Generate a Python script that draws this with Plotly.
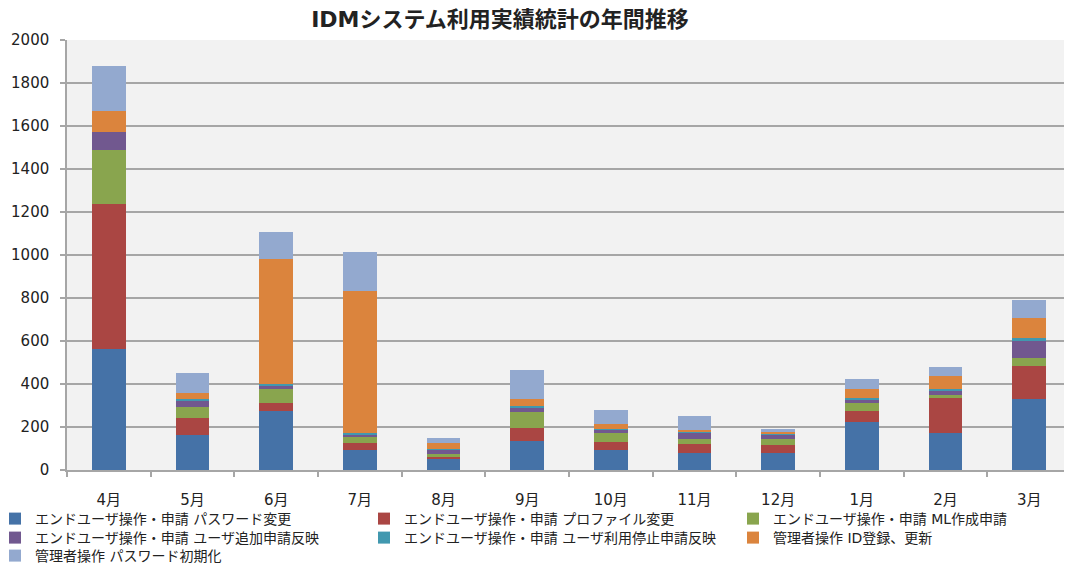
import plotly.graph_objects as go

months = ["4月", "5月", "6月", "7月", "8月", "9月", "10月", "11月", "12月", "1月", "2月", "3月"]

series_names = [
    "エンドユーザ操作・申請 パスワード変更",
    "エンドユーザ操作・申請 プロファイル変更",
    "エンドユーザ操作・申請 ML作成申請",
    "エンドユーザ操作・申請 ユーザ追加申請反映",
    "エンドユーザ操作・申請 ユーザ利用停止申請反映",
    "管理者操作 ID登録、更新",
    "管理者操作 パスワード初期化",
]

pw_change = [565, 161, 273, 93, 52, 133, 94, 77, 77, 225, 173, 329]
profile_change = [671, 82, 40, 34, 10, 63, 34, 45, 40, 51, 164, 156]
ml_create = [254, 51, 63, 27, 12, 74, 42, 23, 28, 34, 10, 35]
user_add = [82, 28, 16, 10, 23, 23, 18, 30, 19, 20, 24, 81]
user_stop = [0, 6, 8, 6, 3, 7, 4, 3, 5, 7, 6, 12]
id_register = [98, 30, 582, 663, 27, 29, 24, 10, 6, 40, 62, 93]
pw_reset = [209, 93, 123, 180, 23, 137, 62, 62, 16, 46, 41, 85]

values = [pw_change, profile_change, ml_create, user_add, user_stop, id_register, pw_reset]
colors = ["#4572A7", "#AA4643", "#89A54E", "#71588F", "#4198AF", "#DB843D", "#93A9CF"]
# legend rows as in the reference: three entries per row
legend_ids = ["legend", "legend", "legend", "legend2", "legend2", "legend2", "legend3"]
legend_widths = [324, 324, 270, 324, 324, 270, 324]

FONT = "DejaVu Sans, Noto Sans CJK JP, sans-serif"
TXT = "#222222"

fig = go.Figure()
for name, vals, col, lg, lw in zip(series_names, values, colors, legend_ids, legend_widths):
    fig.add_trace(go.Bar(
        x=months, y=vals, name=name, marker_color=col,
        marker_line_width=0, legend=lg, legendwidth=lw,
    ))

# page has an 8px body margin, so the figure is drawn 8px smaller
W, H = 1064, 556
ml, mr, mt, mb = 59, 1, 32, 94
pw = W - ml - mr
ph = H - mt - mb

def lx(px):
    return (px - ml) / pw

def ly(py):
    return (H - mb - py) / ph

legend_common = dict(
    orientation="h", xanchor="left", yanchor="top",
    font=dict(family=FONT, size=14, color=TXT),
    bgcolor="rgba(0,0,0,0)", traceorder="normal", itemwidth=30,
    entrywidthmode="pixels",
)

fig.update_layout(
    width=W, height=H,
    margin=dict(l=ml, r=mr, t=mt, b=mb, autoexpand=False),
    barmode="stack", bargap=0.6,
    paper_bgcolor="white", plot_bgcolor="#F2F2F2",
    font=dict(family=FONT, size=15, color=TXT),
    title=dict(
        text="<b>IDMシステム利用実績統計の年間推移</b>",
        x=492 / W, xanchor="center", xref="container",
        y=1 - 11 / H, yanchor="middle", yref="container",
        font=dict(family=FONT, size=22, color=TXT),
    ),
    legend=dict(x=lx(-13), y=ly(495), **legend_common),
    legend2=dict(x=lx(-13), y=ly(514), **legend_common),
    legend3=dict(x=lx(-13), y=ly(532), **legend_common),
    xaxis=dict(
        type="category", showline=True, linecolor="#A6A6A6", linewidth=1.5,
        ticks="outside", tickson="boundaries", ticklen=5, tickcolor="#A6A6A6",
        tickwidth=1.5, showgrid=False, ticklabelstandoff=15,
        tickfont=dict(family=FONT, size=15, color=TXT),
    ),
    yaxis=dict(
        range=[0, 2000], dtick=200, tick0=0, showline=True, linecolor="#A6A6A6",
        linewidth=1.5, ticks="outside", ticklen=5, tickcolor="#A6A6A6", tickwidth=1.5,
        showgrid=True, gridcolor="#A6A6A6", gridwidth=1.5, zeroline=False,
        ticklabelstandoff=8,
        tickfont=dict(family=FONT, size=15, color=TXT),
    ),
    showlegend=True,
)

fig.write_html("out.html")
